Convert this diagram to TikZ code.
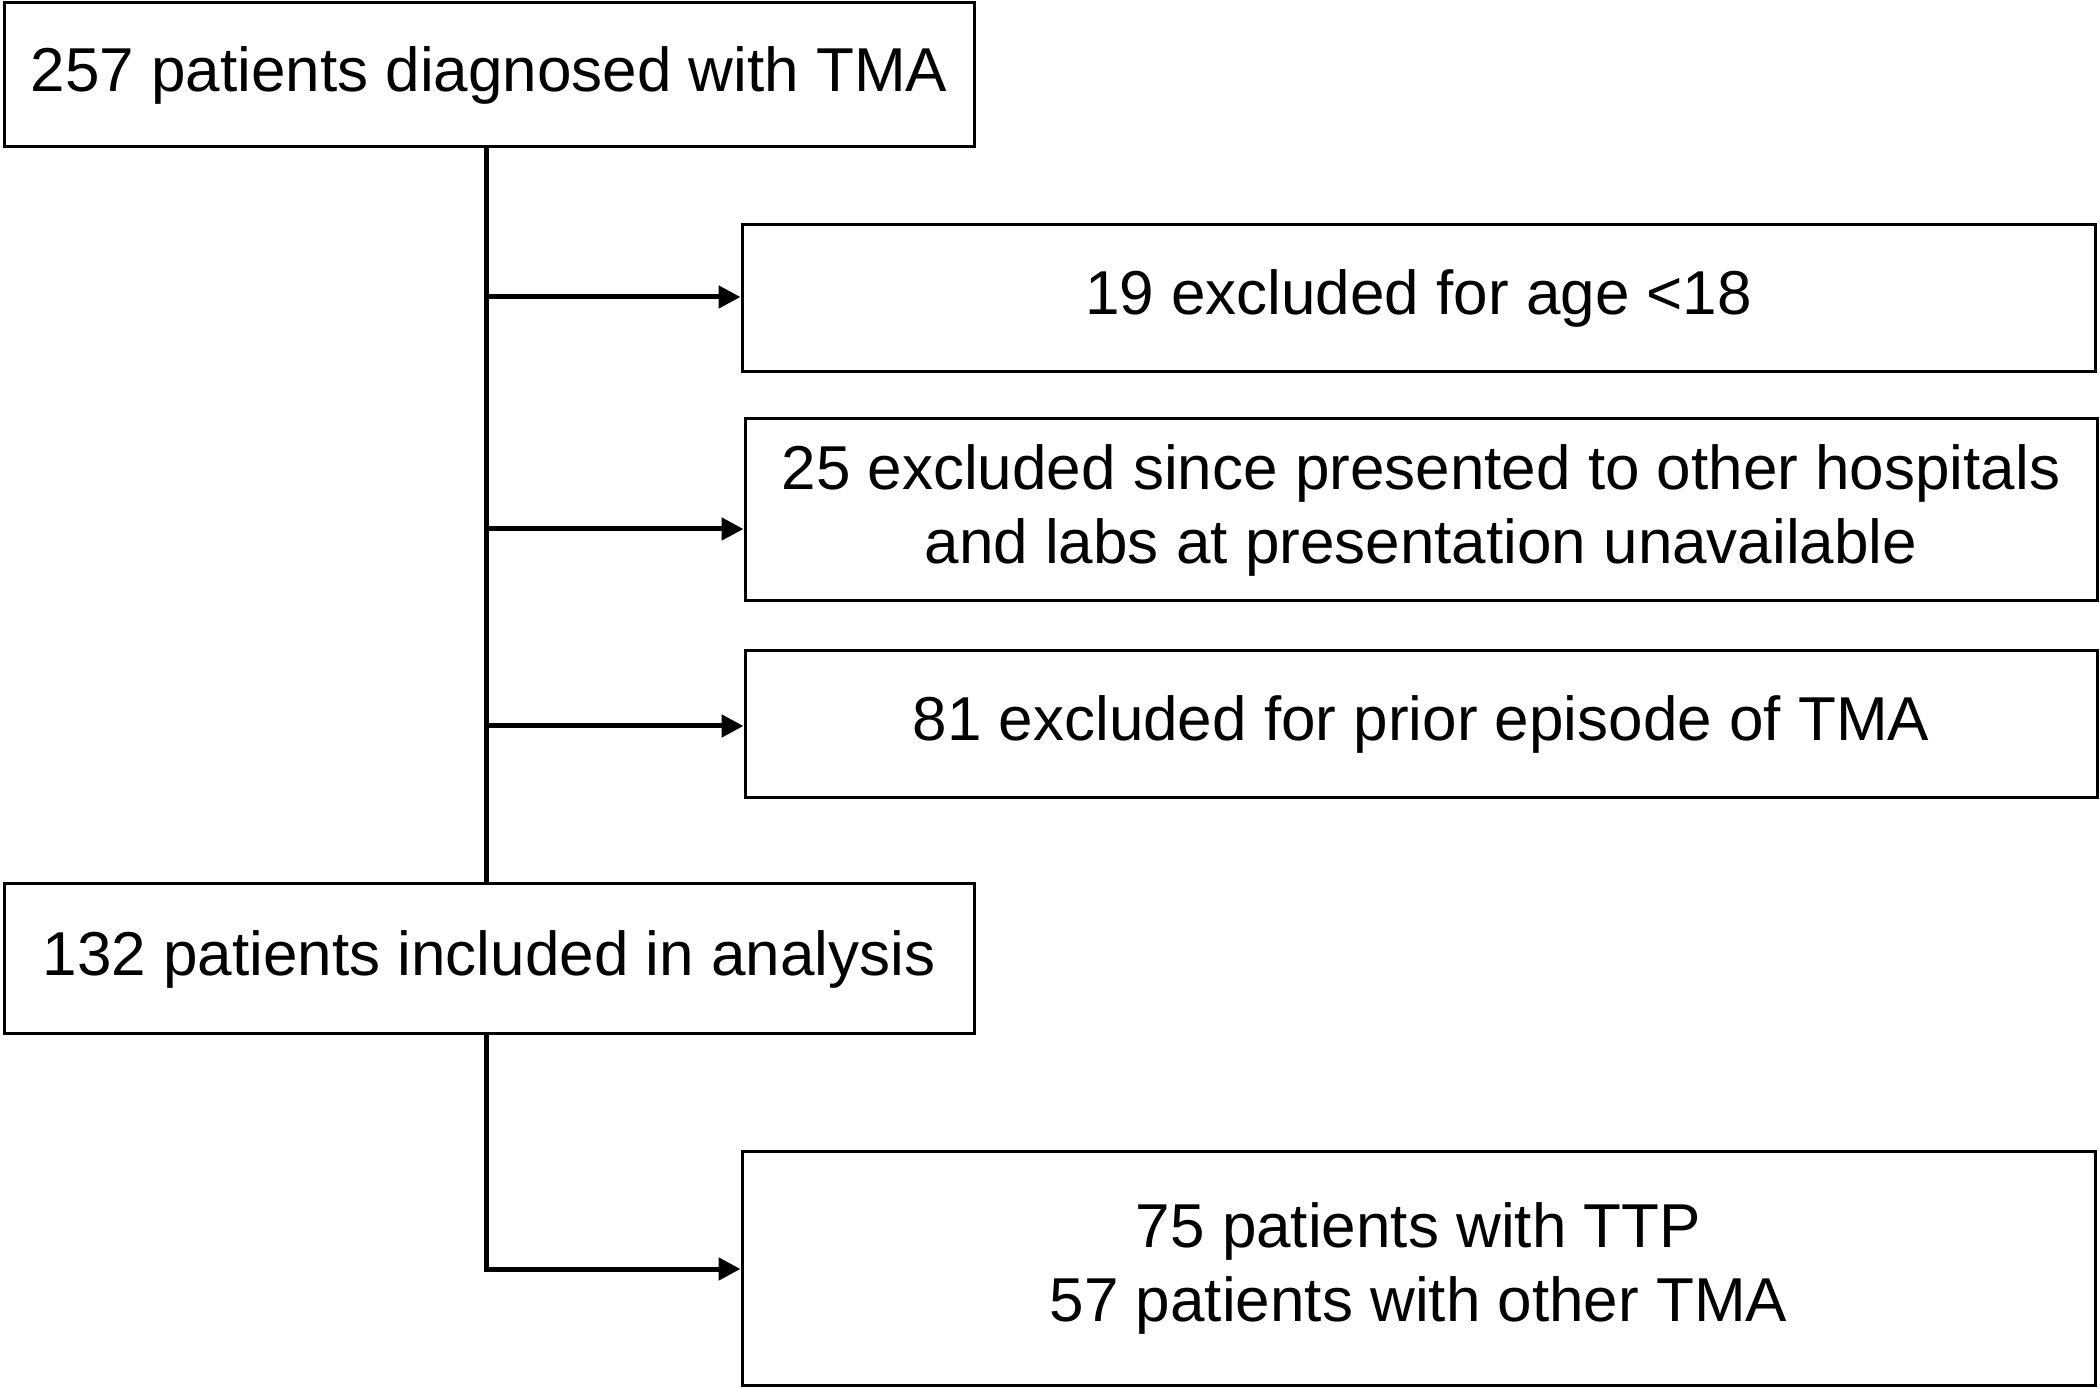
\documentclass[tikz,border=0pt]{standalone}
\usepackage{fontspec}
\setmainfont{Liberation Sans}
\usetikzlibrary{arrows.meta}
\begin{document}
\begin{tikzpicture}[x=0.25pt,y=-0.25pt,
  box/.style={draw,line width=0.75pt,inner sep=0pt,align=center,
    font=\fontsize{15.5pt}{18.5pt}\selectfont},
  conn/.style={line width=1.25pt},
  arr/.style={conn,-{Triangle[length=5.5pt,width=5.5pt]}}]
\useasboundingbox (0,0) rectangle (2100,1389);
\node[box,minimum width=242.5pt,minimum height=36pt] (b1) at (489,75) {257 patients diagnosed with TMA};
\node[box,minimum width=338.25pt,minimum height=36.75pt] (b2) at (1418.5,298.5) {19 excluded for age <18};
\node[box,minimum width=338pt,minimum height=45.5pt] (b3) at (1421,510) {25 excluded since presented to other hospitals\\and labs at presentation unavailable};
\node[box,minimum width=338pt,minimum height=36.75pt] (b4) at (1421,724.5) {81 excluded for prior episode of TMA};
\node[box,minimum width=242.5pt,minimum height=37.5pt] (b5) at (489,959) {132 patients included in analysis};
\node[box,minimum width=338.25pt,minimum height=58.25pt] (b6) at (1418.5,1268.5) {75 patients with TTP\\57 patients with other TMA};
\coordinate (s) at (486,0);
\coordinate (a1) at (486,297);
\coordinate (a2) at (486,529);
\coordinate (a3) at (486,726);
\coordinate (a4) at (486,1269);
\draw[conn] (b1.south -| s) -- (b5.north -| s);
\draw[arr] (a1) -- (a1 -| b2.west);
\draw[arr] (a2) -- (a2 -| b3.west);
\draw[arr] (a3) -- (a3 -| b4.west);
\draw[arr] (b5.south -| s) -- (a4) -- (a4 -| b6.west);
\end{tikzpicture}
\end{document}
